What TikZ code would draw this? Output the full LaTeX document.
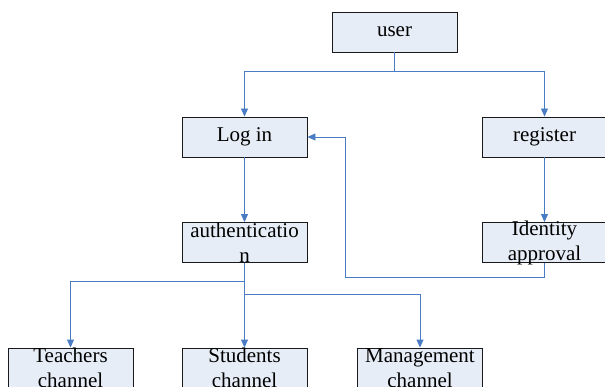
\documentclass[tikz,border=0pt]{standalone}
\usepackage{fontspec}
\setmainfont{Liberation Serif}
\usetikzlibrary{arrows.meta}
\definecolor{boxfill}{HTML}{E7EDF7}
\definecolor{linkblue}{HTML}{4A7CC4}
\tikzset{
  box/.style={draw=black!90, line width=0.9pt, fill=boxfill, minimum width=125pt,
    minimum height=40pt, inner sep=0pt},
  lbl/.style={inner sep=0pt, align=center, font=\fontsize{21}{25}\selectfont},
  link/.style={draw=linkblue, line width=0.9pt,
    -{Triangle[length=8pt,width=7pt]}},
  wire/.style={draw=linkblue, line width=0.9pt}
}
\begin{document}
\begin{tikzpicture}[x=1pt,y=-1pt]
\useasboundingbox (0,0) rectangle (605,387);
\clip (0,0) rectangle (605,387);
% boxes
\node[box] (user)  at (394.5,32)   {};
\node[box] (login) at (244.5,137)  {};
\node[box] (reg)   at (544.5,137)  {};
\node[box] (auth)  at (244.5,242.5) {};
\node[box] (ident) at (544.5,242.5) {};
\node[box] (teach) at (70.5,368)   {};
\node[box] (stud)  at (244.5,368)  {};
\node[box] (mgmt)  at (420,368)    {};
% labels
\node[lbl] at (user)  {user};
\node[lbl] at (login) {Log in};
\node[lbl] at (reg)   {register};
\node[lbl] at (auth)  {authenticatio\\n};
\node[lbl] at (ident) {Identity\\approval};
\node[lbl] at (teach) {Teachers\\channel};
\node[lbl] at (stud)  {Students\\channel};
\node[lbl] at (mgmt)  {Management\\channel};
% routing points
\coordinate (usplit) at (394.5,71);
\coordinate (aleft)  at (244.5,281);
\coordinate (aright) at (244.5,294);
\coordinate (ret)    at (345,277);
% connectors
\draw[wire] (user.south) -- (usplit);
\draw[link] (usplit) -| (login.north);
\draw[link] (usplit) -| (reg.north);
\draw[link] (login) -- (auth);
\draw[link] (reg) -- (ident);
\draw[link] (ident.south) |- (ret) |- (login.east);
\draw[link] (auth.south) -- (stud.north);
\draw[link] (aleft) -| (teach.north);
\draw[link] (aright) -| (mgmt.north);
\end{tikzpicture}
\end{document}
